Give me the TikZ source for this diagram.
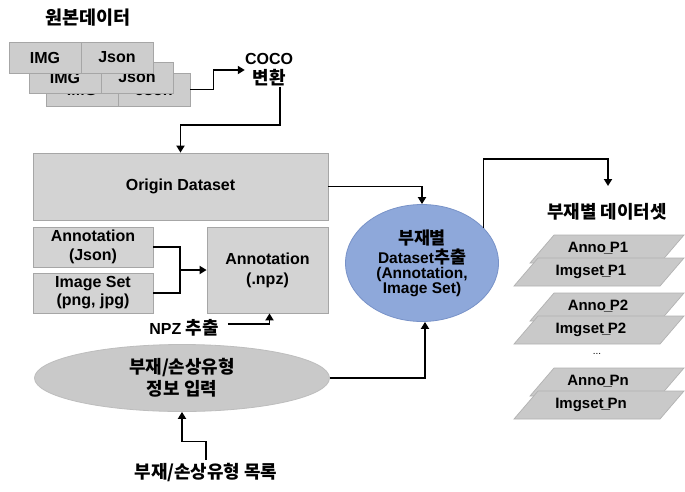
\documentclass[tikz,border=0pt]{standalone}
\usepackage{fontspec}
\setmainfont{Liberation Sans}
\newfontfamily\kr{Noto Sans CJK KR}[Scale=1.12]
\usetikzlibrary{arrows.meta,shapes.geometric}
\newcommand\K[1]{{\kr #1}}
\newcommand\us{\kern-2pt\_\kern-2.5pt}
\definecolor{boxfill}{HTML}{D3D3D3}
\definecolor{boxline}{HTML}{A6A6A6}
\definecolor{tilefill}{HTML}{CDCDCD}
\definecolor{parafill}{HTML}{C9C9C9}
\definecolor{paraline}{HTML}{B2B2B2}
\definecolor{ovalfill}{HTML}{C9C9C9}
\definecolor{ovalline}{HTML}{BDBDBD}
\definecolor{bluefill}{HTML}{8EA8DA}
\definecolor{blueline}{HTML}{7892C8}

\begin{document}
\begin{tikzpicture}[x=1pt,y=-1pt,
  every node/.style={font=\bfseries\fontsize{16}{19}\selectfont, align=center, inner sep=0pt},
  box/.style 2 args={draw=boxline, fill=boxfill, line width=0.8pt,
    minimum width=#1, minimum height=#2},
  tile/.style={draw=boxline, fill=tilefill, line width=0.8pt,
    minimum width=72, minimum height=31, font=\bfseries\fontsize{16}{18}\selectfont},
  para/.style={draw=paraline, fill=parafill, line width=0.7pt},
  plabel/.style={font=\bfseries\fontsize{15}{16}\selectfont},
  line/.style={draw=black, line width=1.8pt},
  arr/.style={line, -{Triangle[length=7pt,width=8pt]}},
  ktext/.style={font=\bfseries\kr\fontsize{16}{20}\selectfont}
]
\fill[white] (0,0) rectangle (685,491);
\useasboundingbox (0,0) rectangle (685,491);

% source data stack
\node[font=\bfseries\kr\fontsize{16.5}{20}\selectfont] (title) at (88,18) {원본데이터};
\node[tile, minimum height=33, text height=12pt, text depth=0pt] (img3) at (82,89.5) {IMG};
\node[tile, minimum height=33, text height=12pt, text depth=0pt] (json3) at (154,89.5) {Json};
\node[tile] (img2) at (65,77.5) {IMG};
\node[tile] (json2) at (137,77.5) {Json};
\node[tile] (img1) at (45,57.5) {IMG};
\node[tile] (json1) at (117,57.5) {Json};

% COCO conversion
\node[font=\bfseries\fontsize{16}{20}\selectfont] (coco) at (269,70) {COCO\\\K{변환}};
\draw[arr] (json3.east) -- ++(23,0) |- (coco.west);

% origin dataset and annotation boxes
\node[box={295}{67}] (origin) at (180.5,186.5) {Origin Dataset};
\draw[arr] ([xshift=11pt]coco.south) |- ([yshift=28pt]origin.north) -- (origin.north);

\node[box={120}{40}] (annj) at (93,247) {Annotation\\(Json)};
\node[box={120}{40}, font=\bfseries\fontsize{16}{18}\selectfont] (imgs) at (93,293) {Image Set\\(png, jpg)};
\node[box={121}{86}, font=\bfseries\fontsize{16}{20}\selectfont] (npz) at (267.5,270) {Annotation\\(.npz)};
\coordinate (join) at (180,270);
\draw[line] (annj.east) -| (join);
\draw[line] (imgs.east) -| (join);
\draw[arr] (join) -- (npz.west);

\node (npzlbl) at (184,328) {NPZ \K{추출}};
\draw[arr] ([xshift=9pt,yshift=4pt]npzlbl.east) -| ([xshift=2pt]npz.south);

% part / damage type input
\node[ellipse, draw=ovalline, fill=ovalfill, line width=0.8pt,
  minimum width=295, minimum height=67, font=\bfseries\kr\fontsize{16}{22}\selectfont] (info) at (182,378) {부재/손상유형\\정보 입력};
\node[ktext] (list) at (206,473) {부재/손상유형 목록};
\draw[arr] ([yshift=4pt]list.north) -- ++(0,-18) -| (info.south);

% extraction
\node[ellipse, draw=blueline, fill=bluefill, line width=0.8pt,
  minimum width=153, minimum height=117,
  font=\bfseries\fontsize{15.5}{15}\selectfont] (ext) at (422,263)
  {\K{부재별}\\[1.5pt]Dataset\K{추출}\\(Annotation,\\Image Set)};
\draw[arr] (origin.east) -| (ext.north);
\draw[arr] (info.east) -| ([xshift=3pt]ext.south);

% per-part datasets
\node[ktext] (dslbl) at (607,212) {부재별 데이터셋};
\coordinate (dsin) at (608,186);
\draw[arr] (ext.30) |- ([yshift=27pt]dsin) -- (dsin);

\foreach \T/\n in {235/1, 293/2, 368/n} {
  \path[para] (554,\T) -- (684,\T) -- (660,\T+28) -- (530,\T+28) -- cycle;
  \node[plabel] (anno\n) at (598,\T+13) {Anno\us P\n};
  \path[para] (538,\T+23) -- (684,\T+23) -- (660,\T+51) -- (514,\T+51) -- cycle;
  \node[plabel] (imgset\n) at (591,\T+37) {Imgset\us P\n};
}
\node[font=\fontsize{10}{12}\selectfont] (dots) at (597,354) {...};
\end{tikzpicture}
\end{document}
